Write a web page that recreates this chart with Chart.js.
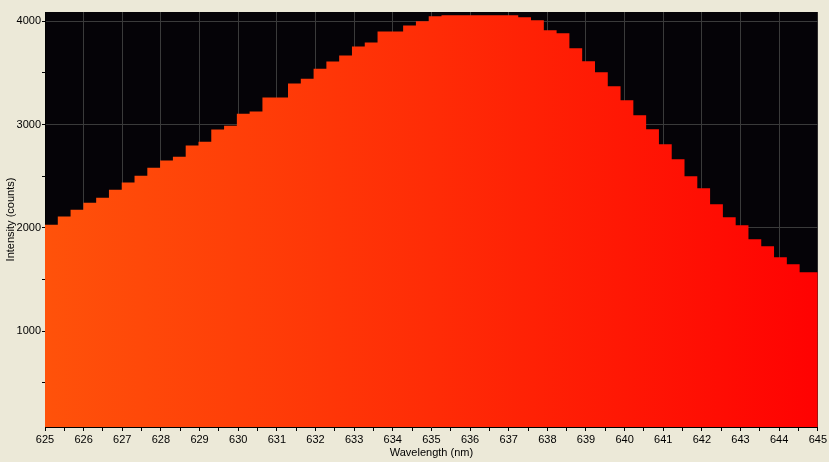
<!DOCTYPE html>
<html>
<head>
<meta charset="utf-8">
<script src="https://cdn.jsdelivr.net/npm/chart.js@4.4.0/dist/chart.umd.min.js"></script>
<style>
  html, body { margin: 0; padding: 0; background: #ece9d8; }
  canvas { display: block; }
</style>
</head>
<body>
<canvas id="chartEspectro" width="829" height="462"></canvas>
<script>
// intensidad por pixel del detector (counts)
const intensidad = [
  1964, 2032, 2110, 2177, 2245, 2293, 2371, 2439, 2506, 2584,
  2652, 2690, 2797, 2835, 2952, 2990, 3106, 3126, 3262, 3262,
  3397, 3445, 3542, 3610, 3669, 3756, 3795, 3901, 3901, 3960,
  4000, 4049, 4059, 4059, 4059, 4059, 4059, 4059, 4040, 4010,
  3913, 3884, 3739, 3613, 3506, 3371, 3236, 3091, 2955, 2810,
  2665, 2500, 2384, 2229, 2103, 2026, 1890, 1823, 1716, 1648,
  1571,
];
const lambdaInicio = 625.0;
const lambdaFin = 645.0;
const pasoPixel = 0.331;   // nm por pixel
const longitudes = intensidad.map((_, i) => lambdaInicio + i * pasoPixel);

// marcas del eje y (las de 1000 llevan etiqueta y rejilla)
const ticksY = [500, 1000, 1500, 2000, 2500, 3000, 3500, 4000];

const tituloX = 'Wavelength (nm)';
const tituloY = 'Intensity (counts)';

const puntos = longitudes.map((x, i) => ({ x: x, y: intensidad[i] }));
puntos.push({ x: lambdaFin, y: intensidad[intensidad.length - 1] });

const fuente = { family: '"Liberation Sans", Arial, sans-serif', size: 11 };
const gris = '#3a3a3a';

const fondoNegro = {
  id: 'fondoNegro',
  beforeDraw(chart) {
    const { ctx, chartArea: a } = chart;
    ctx.save();
    ctx.fillStyle = '#050307';
    ctx.fillRect(a.left, a.top, a.right - a.left, a.bottom - a.top);
    ctx.restore();
  }
};

function degradado(context) {
  const a = context.chart.chartArea;
  if (!a) return '#ff2a00';
  const g = context.chart.ctx.createLinearGradient(a.left, 0, a.right, 0);
  g.addColorStop(0, '#ff520a');
  g.addColorStop(0.5, '#ff2c06');
  g.addColorStop(1, '#ff0202');
  return g;
}

const ctx = document.getElementById('chartEspectro');
new Chart(ctx, {
  type: 'line',
  data: {
    datasets: [{
      data: puntos,
      stepped: 'after',
      fill: 'start',
      backgroundColor: degradado,
      borderWidth: 0,
      pointRadius: 0
    }]
  },
  plugins: [fondoNegro],
  options: {
    responsive: false,
    animation: false,
    layout: { padding: { top: 12, right: 11, left: 0, bottom: 0 } },
    plugins: { legend: { display: false }, tooltip: { enabled: false } },
    scales: {
      x: {
        type: 'linear',
        min: lambdaInicio,
        max: lambdaFin,
        z: 1,
        afterFit: s => { s.height = 35; },
        ticks: {
          stepSize: 0.5,
          autoSkip: false,
          maxRotation: 0,
          padding: 2,
          color: '#000',
          font: fuente,
          callback: v => Number.isInteger(v) ? String(v) : ''
        },
        grid: {
          color: c => (c.tick && Number.isInteger(c.tick.value) && c.tick.value !== lambdaFin) ? gris : 'rgba(0,0,0,0)',
          tickColor: '#000',
          tickLength: 4
        },
        border: { color: '#000' },
        title: { display: true, text: tituloX, color: '#000', font: fuente, padding: { top: 0, bottom: 2 } }
      },
      y: {
        min: 74,
        max: 4090,
        z: 1,
        afterFit: s => { s.width = 45; },
        afterBuildTicks: s => { s.ticks = ticksY.map(v => ({ value: v })); },
        ticks: {
          autoSkip: false,
          padding: 1,
          color: '#000',
          font: fuente,
          callback: v => v % 1000 === 0 ? String(v) : ''
        },
        grid: {
          color: c => (c.tick && c.tick.value % 1000 === 0) ? gris : 'rgba(0,0,0,0)',
          tickColor: '#000',
          tickLength: 3
        },
        border: { color: '#000' },
        title: { display: true, text: tituloY, color: '#000', font: fuente, padding: { top: 4, bottom: 0 } }
      }
    }
  }
});
</script>
</body>
</html>
